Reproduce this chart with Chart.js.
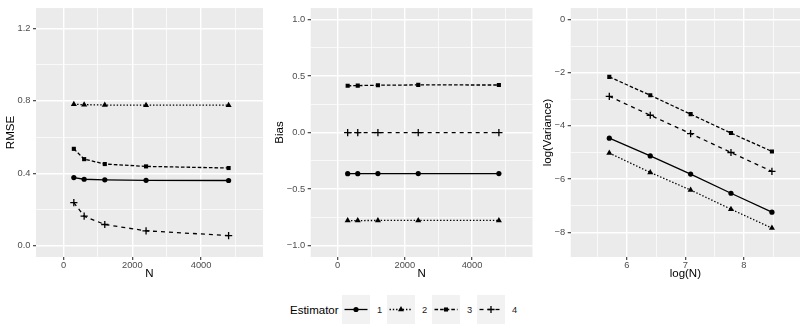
<!DOCTYPE html>
<html>
<head>
<meta charset="utf-8">
<script src="https://cdn.jsdelivr.net/npm/chart.js@4.4.0/dist/chart.umd.min.js"></script>
<style>
  body { margin: 0; background: #fff; font-family: 'Liberation Sans', Arial, sans-serif; }
  canvas.panel { position: absolute; top: 0; }
  .lg { position: absolute; white-space: nowrap; }
  .lgTitle { font-size: 11.5px; color: #000; line-height: 16px; top: 302px; left: 290px; }
  .lgLabel { font-size: 9.3px; color: #1a1a1a; line-height: 12px; top: 304px; }
  .lgKey { position: absolute; top: 295px; background: #f2f2f2; }
</style>
</head>
<body>
<canvas id="rmseChart" class="panel" width="269" height="290" style="left:0px"></canvas>
<canvas id="biasChart" class="panel" width="269" height="290" style="left:269px"></canvas>
<canvas id="varChart" class="panel" width="269" height="290" style="left:537px"></canvas>
<div id="legend"></div>
<script>
// sample sizes and their logs
const N = [300, 600, 1200, 2400, 4800];
const logN = [5.70, 6.40, 7.09, 7.78, 8.48];
const estimators = ['1', '2', '3', '4'];

// RMSE per estimator
const rmse1 = [0.376, 0.367, 0.364, 0.361, 0.360];
const rmse2 = [0.781, 0.779, 0.777, 0.776, 0.776];
const rmse3 = [0.535, 0.478, 0.451, 0.438, 0.429];
const rmse4 = [0.238, 0.163, 0.117, 0.082, 0.056];

// Bias per estimator
const bias1 = [-0.364, -0.364, -0.363, -0.363, -0.363];
const bias2 = [-0.778, -0.778, -0.777, -0.777, -0.777];
const bias3 = [0.413, 0.415, 0.418, 0.421, 0.420];
const bias4 = [0.0, 0.0, 0.0, 0.0, 0.0];

// log(Variance) per estimator
const logVar1 = [-4.46, -5.13, -5.81, -6.53, -7.24];
const logVar2 = [-5.02, -5.75, -6.41, -7.13, -7.84];
const logVar3 = [-2.16, -2.85, -3.56, -4.27, -4.96];
const logVar4 = [-2.89, -3.60, -4.29, -5.00, -5.71];

// tick values + labels (major) and minor grid positions
const nTicks = [0, 2000, 4000];
const nLabels = ['0', '2000', '4000'];
const nMinor = [1000, 3000, 5000];
const rmseTicks = [0, 0.4, 0.8, 1.2];
const rmseLabels = ['0.0', '0.4', '0.8', '1.2'];
const rmseMinor = [0.2, 0.6, 1.0];
const biasTicks = [-1, -0.5, 0, 0.5, 1];
const biasLabels = ['\u22121.0', '\u22120.5', '0.0', '0.5', '1.0'];
const biasMinor = [-0.75, -0.25, 0.25, 0.75];
const logNTicks = [6, 7, 8];
const logNLabels = ['6', '7', '8'];
const logNMinor = [5.5, 6.5, 7.5, 8.5];
const logVarTicks = [-8, -6, -4, -2, 0];
const logVarLabels = ['\u22128', '\u22126', '\u22124', '\u22122', '0'];
const logVarMinor = [-7, -5, -3, -1];

// look per estimator
const pointStyles = ['circle', 'triangle', 'rect', 'cross'];
const pointSizes = [2.6, 3.5, 2.9, 3.6];
const dashes = [[], [1.4, 1.9], [3.6, 2], [4, 4]];

const FONT = "'Liberation Sans', Arial, sans-serif";

const panelBg = {
  id: 'panelBg',
  beforeDraw(chart) {
    const { ctx, chartArea: a } = chart;
    ctx.save();
    ctx.fillStyle = '#ebebeb';
    ctx.fillRect(a.left, a.top, a.right - a.left, a.bottom - a.top);
    ctx.restore();
  }
};

function axis(min, max, ticks, labels, minor, title, isX, size) {
  const isMajor = v => ticks.includes(v);
  return {
    type: 'linear',
    min: min,
    max: max,
    afterBuildTicks: s => {
      s.ticks = ticks.concat(minor).sort((a, b) => a - b).map(v => ({ value: v }));
    },
    afterFit: s => {
      if (isX) s.height = size;
      else s.width = size;
    },
    ticks: {
      autoSkip: false,
      maxRotation: 0,
      padding: isX ? 0 : 2.5,
      color: '#4d4d4d',
      font: { family: FONT, size: 9.3 },
      callback: v => {
        const i = ticks.indexOf(v);
        return i >= 0 ? labels[i] : '';
      }
    },
    grid: {
      color: '#ffffff',
      lineWidth: c => (c.tick && isMajor(c.tick.value)) ? 1.4 : 0.7,
      tickColor: c => (c.tick && isMajor(c.tick.value)) ? '#333333' : 'rgba(0,0,0,0)',
      tickLength: 3,
      tickWidth: 1.1,
      drawTicks: true
    },
    border: { display: false },
    title: {
      display: true,
      text: title,
      color: '#000',
      font: { family: FONT, size: 11.5 },
      padding: isX ? { top: 0, bottom: 9 } : { top: 4, bottom: 0 }
    }
  };
}

function makeDatasets(xs, series) {
  return series.map((ys, i) => ({
    label: estimators[i],
    data: xs.map((x, j) => ({ x: x, y: ys[j] })),
    borderColor: '#000',
    backgroundColor: '#000',
    borderWidth: 1.3,
    borderDash: dashes[i],
    pointStyle: pointStyles[i],
    pointRadius: pointSizes[i],
    pointBorderWidth: pointStyles[i] === 'cross' ? 1.3 : 0,
    pointBackgroundColor: '#000',
    pointBorderColor: '#000',
    tension: 0
  }));
}

function makePanel(id, xs, series, xAxis, yAxis, rightPad) {
  return new Chart(document.getElementById(id).getContext('2d'), {
    type: 'line',
    data: { datasets: makeDatasets(xs, series) },
    options: {
      responsive: false,
      animation: false,
      devicePixelRatio: 1,
      layout: { padding: { top: 5, right: rightPad, left: 0, bottom: 0 } },
      plugins: { legend: { display: false }, tooltip: { enabled: false } },
      scales: { x: xAxis, y: yAxis }
    },
    plugins: [panelBg]
  });
}

makePanel('rmseChart', N, [rmse1, rmse2, rmse3, rmse4],
  axis(-800, 5800, nTicks, nLabels, nMinor, 'N', true, 33),
  axis(-0.0625, 1.3125, rmseTicks, rmseLabels, rmseMinor, 'RMSE', false, 36), 6);

makePanel('biasChart', N, [bias1, bias2, bias3, bias4],
  axis(-800, 5800, nTicks, nLabels, nMinor, 'N', true, 33),
  axis(-1.1, 1.1, biasTicks, biasLabels, biasMinor, 'Bias', false, 41.7), 5.5);

makePanel('varChart', logN, [logVar1, logVar2, logVar3, logVar4],
  axis(5.04, 8.96, logNTicks, logNLabels, logNMinor, 'log(N)', true, 33),
  axis(-8.925, 0.425, logVarTicks, logVarLabels, logVarMinor, 'log(Variance)', false, 33.7), 6);

// legend at the bottom, keys drawn with chart.js point helper
function buildLegend() {
  const legend = document.getElementById('legend');
  const title = document.createElement('div');
  title.className = 'lg lgTitle';
  title.textContent = 'Estimator';
  legend.appendChild(title);

  estimators.forEach((name, i) => {
    const left = 342 + i * 45;
    const key = document.createElement('canvas');
    key.className = 'lgKey';
    key.width = 28;
    key.height = 29;
    key.style.left = left + 'px';
    legend.appendChild(key);

    const ctx = key.getContext('2d');
    ctx.strokeStyle = '#000';
    ctx.fillStyle = '#000';
    ctx.lineWidth = 1.3;
    ctx.setLineDash(dashes[i]);
    ctx.beginPath();
    ctx.moveTo(2.5, 14.5);
    ctx.lineTo(25.5, 14.5);
    ctx.stroke();
    ctx.setLineDash([]);
    ctx.lineWidth = pointStyles[i] === 'cross' ? 1.3 : 0;
    Chart.helpers.drawPoint(ctx, {
      pointStyle: pointStyles[i],
      radius: pointSizes[i],
      borderWidth: pointStyles[i] === 'cross' ? 1.3 : 0,
      rotation: 0
    }, 14, 14.5);

    const lab = document.createElement('div');
    lab.className = 'lg lgLabel';
    lab.style.left = (left + 35) + 'px';
    lab.textContent = name;
    legend.appendChild(lab);
  });
}

buildLegend();
</script>
</body>
</html>
